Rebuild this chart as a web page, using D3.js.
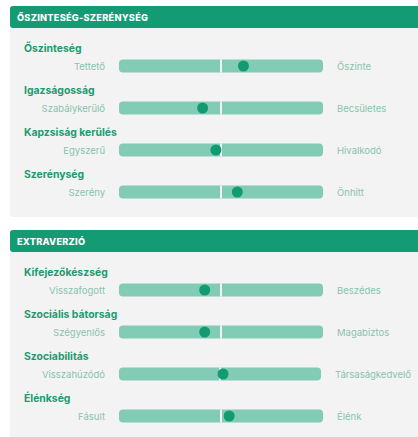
<!DOCTYPE html>
<html><head><meta charset="utf-8">
<script src="https://cdn.jsdelivr.net/npm/d3@7"></script>
<style>
html,body{margin:0;padding:0;background:#fff;}
svg{display:block;}
</style></head>
<body>
<svg id="chart" width="418" height="437"></svg>
<script>
// ---- data ----
const sections = ["ŐSZINTESÉG-SZERÉNYSÉG", "EXTRAVERZIÓ"];
const traits = ["Őszinteség", "Igazságosság", "Kapzsiság kerülés", "Szerénység",
                "Kifejezőkészség", "Szociális bátorság", "Szociabilitás", "Élénkség"];
const traitSection = [0, 0, 0, 0, 1, 1, 1, 1];
const leftLabels = ["Tettető", "Szabálykerülő", "Egyszerű", "Szerény",
                    "Visszafogott", "Szégyenlős", "Visszahúzódó", "Fásult"];
const rightLabels = ["Őszinte", "Becsületes", "Hivalkodó", "Önhitt",
                     "Beszédes", "Magabiztos", "Társaságkedvelő", "Élénk"];
const values = [0.61, 0.41, 0.475, 0.58, 0.42, 0.42, 0.515, 0.54];

// ---- layout ----
const W = 418, H = 437;
const svg = d3.select("#chart");
const C = {
  header: "#139b74", panel: "#f3f3f3", bar: "#82cbb5", dot: "#129a70",
  title: "#1f9a70", label: "#88c3ae", white: "#ffffff"
};
const font = "Inter, 'Open Sans', sans-serif";

const panelTop = [6, 230];
const panelBottom = [217, 440];
const headerH = 22;
const x = d3.scaleLinear().domain([0, 1]).range([119, 323]);
const rowStep = 42;
const firstRowOffset = 60; // from panel top to bar center of first row
const barH = 13;

sections.forEach((s, i) => {
  const g = svg.append("g");
  g.append("rect").attr("x", 10).attr("y", panelTop[i]).attr("width", W)
    .attr("height", panelBottom[i] - panelTop[i]).attr("rx", 3).attr("fill", C.panel);
  g.append("rect").attr("x", 10).attr("y", panelTop[i]).attr("width", W)
    .attr("height", headerH).attr("rx", 3).attr("fill", C.header);
  g.append("text").attr("x", 17).attr("y", panelTop[i] + 15)
    .attr("fill", C.white).attr("font-family", font).attr("font-weight", 800)
    .attr("font-size", 9.2).attr("letter-spacing", 0.25).text(s);
});

const rowY = traits.map((t, i) => {
  const s = traitSection[i];
  const k = traitSection.slice(0, i).filter(v => v === s).length;
  return panelTop[s] + firstRowOffset + k * rowStep;
});

traits.forEach((t, i) => {
  const cy = rowY[i];
  const g = svg.append("g");
  g.append("text").attr("x", 24).attr("y", cy - 14)
    .attr("fill", C.title).attr("font-family", font).attr("font-weight", 700)
    .attr("font-size", 10.4).text(t);
  g.append("text").attr("x", 105).attr("y", cy + 3.5).attr("text-anchor", "end")
    .attr("fill", C.label).attr("font-family", font).attr("font-size", 9.5).text(leftLabels[i]);
  const rl = g.append("text").attr("x", 337).attr("y", cy + 3.5)
    .attr("fill", C.label).attr("font-family", font).attr("font-size", 9.5).text(rightLabels[i]);
  // flex-like squeeze: long right labels push the bar end slightly left
  const shrink = rl.node().getComputedTextLength() > 75 ? 2 : 0;
  rl.attr("x", 337 - shrink);
  const x0 = x(0), x1 = x(1) - shrink, xm = (x0 + x1) / 2;
  const xi = d3.scaleLinear().domain([0, 1]).range([x0, x1]);
  g.append("rect").attr("x", x0).attr("y", cy - barH / 2)
    .attr("width", x1 - x0).attr("height", barH).attr("rx", 4).attr("fill", C.bar);
  g.append("rect").attr("x", xm - 1).attr("y", cy - barH / 2)
    .attr("width", 2).attr("height", barH).attr("fill", C.panel);
  g.append("circle").attr("cx", xi(values[i])).attr("cy", cy).attr("r", 5.5).attr("fill", C.dot);
});
</script>
</body></html>
